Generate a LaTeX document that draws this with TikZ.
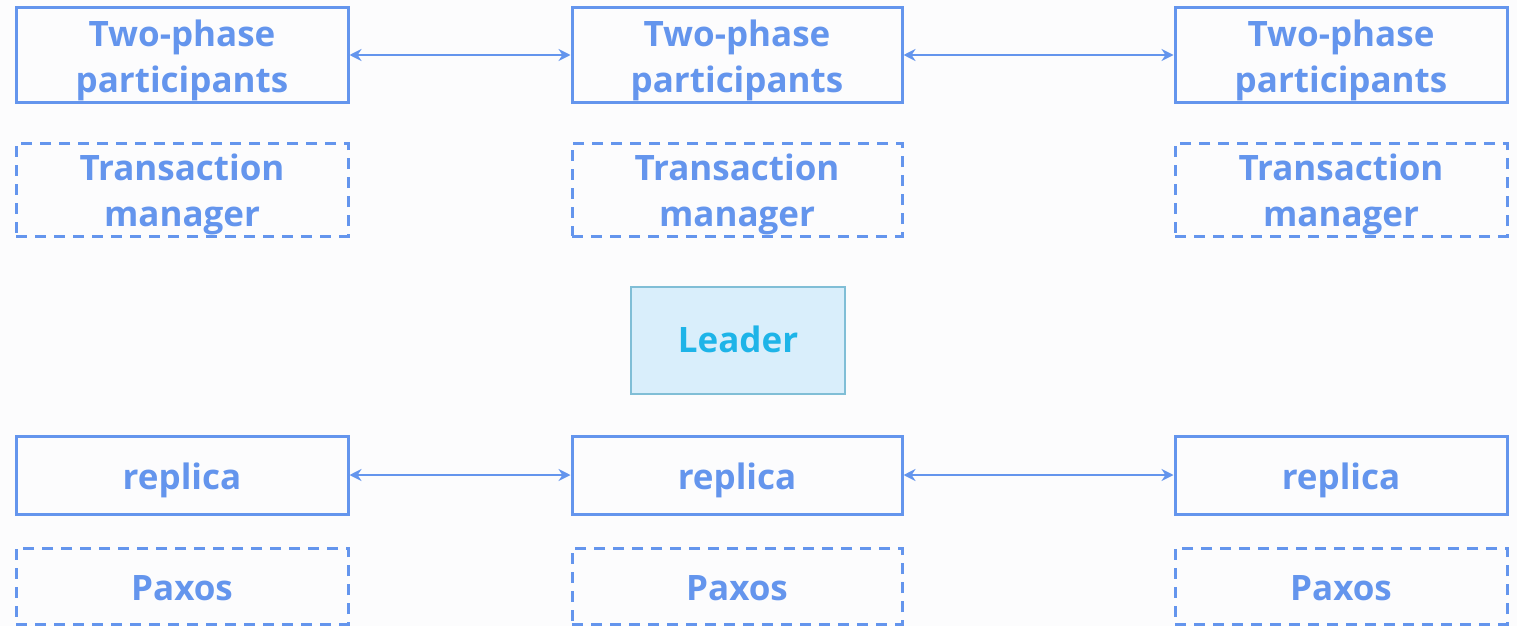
\documentclass[tikz,border=0pt]{standalone}
\usepackage{fontspec}
\setmainfont{Open Sans}[BoldFont={Open Sans Bold}]
\usetikzlibrary{arrows.meta}
\definecolor{bluec}{RGB}{100,149,237}
\definecolor{bgc}{RGB}{252,252,253}
\definecolor{leadfill}{RGB}{217,238,251}
\definecolor{leaddraw}{RGB}{128,190,214}
\definecolor{leadtext}{RGB}{30,180,232}
\tikzset{
  x=1pt,y=-1pt,
  lbl/.style={text=bluec, align=center, inner sep=0pt, yshift=-5pt,
    font=\bfseries\fontsize{35}{46}\selectfont},
  boxbase/.style={draw=bluec, line width=3pt, inner sep=0pt},
  solidbox/.style={boxbase},
  dashbox/.style={boxbase, dash pattern=on 11pt off 8pt},
  conn/.style={draw=bluec, line width=2.5pt, {Stealth[length=12pt,width=12pt]}-{Stealth[length=12pt,width=12pt]}},
}
\begin{document}
\begin{tikzpicture}
\fill[bgc] (0,0) rectangle (1517,626);
\useasboundingbox (0,0) rectangle (1517,626);
% row 1
\node[solidbox, minimum width=332pt, minimum height=94pt, label={[lbl]center:\strut Two-phase\\\strut participants}] (tp1) at (182,55) {};
\node[solidbox, minimum width=330pt, minimum height=94pt, label={[lbl]center:\strut Two-phase\\\strut participants}] (tp2) at (737,55) {};
\node[solidbox, minimum width=332pt, minimum height=94pt, label={[lbl]center:\strut Two-phase\\\strut participants}] (tp3) at (1341,55) {};
% row 2
\node[dashbox, minimum width=332pt, minimum height=93pt, label={[lbl]center:\strut Transaction\\\strut manager}] (tm1) at (182,189.5) {};
\node[dashbox, minimum width=330pt, minimum height=93pt, label={[lbl]center:\strut Transaction\\\strut manager}] (tm2) at (737,189.5) {};
\node[dashbox, minimum width=332pt, minimum height=93pt, label={[lbl]center:\strut Transaction\\\strut manager}] (tm3) at (1341,189.5) {};
% leader
\node[draw=leaddraw, fill=leadfill, line width=2pt, minimum width=214pt, minimum height=107pt, inner sep=0pt,
  label={[lbl, text=leadtext, yshift=2pt]center:\strut Leader}] (lead) at (738,340.5) {};
% row 3
\node[solidbox, minimum width=332pt, minimum height=78pt, label={[lbl]center:\strut replica}] (r1) at (182,475) {};
\node[solidbox, minimum width=330pt, minimum height=78pt, label={[lbl]center:\strut replica}] (r2) at (737,475) {};
\node[solidbox, minimum width=332pt, minimum height=78pt, label={[lbl]center:\strut replica}] (r3) at (1341,475) {};
% row 4
\node[dashbox, minimum width=332pt, minimum height=76pt, label={[lbl]center:\strut Paxos}] (p1) at (182,586) {};
\node[dashbox, minimum width=330pt, minimum height=76pt, label={[lbl]center:\strut Paxos}] (p2) at (737,586) {};
\node[dashbox, minimum width=332pt, minimum height=76pt, label={[lbl]center:\strut Paxos}] (p3) at (1341,586) {};
% arrows
\draw[conn] (tp1) -- (tp2);
\draw[conn] (tp2) -- (tp3);
\draw[conn] (r1) -- (r2);
\draw[conn] (r2) -- (r3);
\end{tikzpicture}
\end{document}
